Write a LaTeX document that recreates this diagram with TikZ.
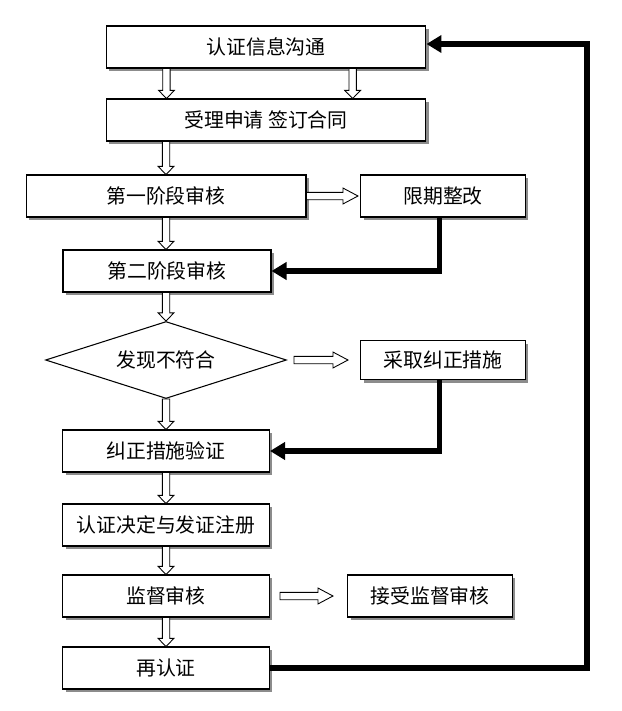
\documentclass[tikz,border=0pt]{standalone}
\usepackage{fontspec}
\setmainfont{Noto Sans CJK SC}
\usetikzlibrary{shapes.geometric,shadows,calc,arrows.meta}
\tikzset{
  box/.style={draw, fill=white, line width=0.6pt, minimum height=0.84cm, inner sep=0pt,
    font=\fontsize{11.3}{13}\selectfont,
    drop shadow={shadow xshift=0.06cm, shadow yshift=-0.06cm, fill=black!45, opacity=1}},
  hollow/.style={draw, fill=white, line width=0.5pt,
    to path={let \p1=($(\tikztotarget)!#1!(\tikztostart)$) in
      ($(\tikztostart)!2.1pt!90:(\tikztotarget)$) -- ($(\p1)!2.1pt!90:(\tikztotarget)$)
      -- ($(\p1)!4.5pt!90:(\tikztotarget)$) -- (\tikztotarget)
      -- ($(\p1)!4.5pt!-90:(\tikztotarget)$) -- ($(\p1)!2.1pt!-90:(\tikztotarget)$)
      -- ($(\tikztostart)!2.1pt!-90:(\tikztotarget)$) -- cycle (\tikztotarget)}},
  hollow/.default=4.6pt,
  back/.style={line width=3.2pt, -{Triangle[length=0.3cm,width=0.34cm]}},
}
\begin{document}
\begin{tikzpicture}[x=0.02cm,y=-0.02cm]
\useasboundingbox (0,0) rectangle (622,711);

\node[box, minimum width=6.4cm] (comm) at (266,47) {认证信息沟通};
\node[box, minimum width=6.4cm] (apply) at (266,120) {受理申请 签订合同};
\node[box, minimum width=5.6cm] (stage1) at (166,196) {第一阶段审核};
\node[box, minimum width=3.3cm] (fix) at (443,196) {限期整改};
\node[box, minimum width=4.16cm] (stage2) at (167,271) {第二阶段审核};
\node[draw, fill=white, line width=0.6pt, diamond, aspect=3.1, inner sep=0pt,
  minimum width=4.82cm, minimum height=1.54cm, font=\fontsize{11.3}{13}\selectfont]
  (nonconf) at (166,360) {发现不符合};
\node[box, minimum width=3.3cm, minimum height=0.78cm] (correct) at (443,360) {采取纠正措施};
\node[box, minimum width=4.14cm] (verify) at (166,451) {纠正措施验证};
\node[box, minimum width=4.14cm] (decide) at (166,525) {认证决定与发证注册};
\node[box, minimum width=4.14cm] (surv) at (166,596) {监督审核};
\node[box, minimum width=3.3cm] (accept) at (430,596) {接受监督审核};
\node[box, minimum width=4.14cm] (recert) at (166,668) {再认证};

% hollow arrows down the main line
\draw[hollow] ($(comm.south west)!.19!(comm.south east)$) to ($(apply.north west)!.19!(apply.north east)$);
\draw[hollow] ($(comm.south west)!.77!(comm.south east)$) to ($(apply.north west)!.77!(apply.north east)$);
\draw[hollow] (apply.south -| stage1.north) to (stage1.north);
\draw[hollow] (stage1.south) to (stage1.south |- stage2.north);
\draw[hollow] (stage2.south -| nonconf.north) to (nonconf.north);
\draw[hollow] (nonconf.south) to (verify.north);
\draw[hollow] (verify.south) to (decide.north);
\draw[hollow] (decide.south) to (surv.north);
\draw[hollow] (surv.south) to (recert.north);

% hollow arrows to the side
\draw[hollow=8.5pt] (stage1.east) to ([xshift=-0.04cm]fix.west);
\draw[hollow=8.5pt] ([xshift=0.14cm]nonconf.east) to ([xshift=-0.24cm]correct.west);
\draw[hollow=8.5pt] ([xshift=0.2cm]surv.east) to ([xshift=-0.28cm]accept.west);

% heavy return lines
\coordinate (loop) at (587,44);
\draw[back] ([xshift=-0.07cm]fix.south) |- (stage2.east);
\draw[back] ([xshift=-0.07cm]correct.south) |- (verify.east);
\draw[back] (recert.east) -| (loop) -- (comm.east |- loop);
\end{tikzpicture}
\end{document}
